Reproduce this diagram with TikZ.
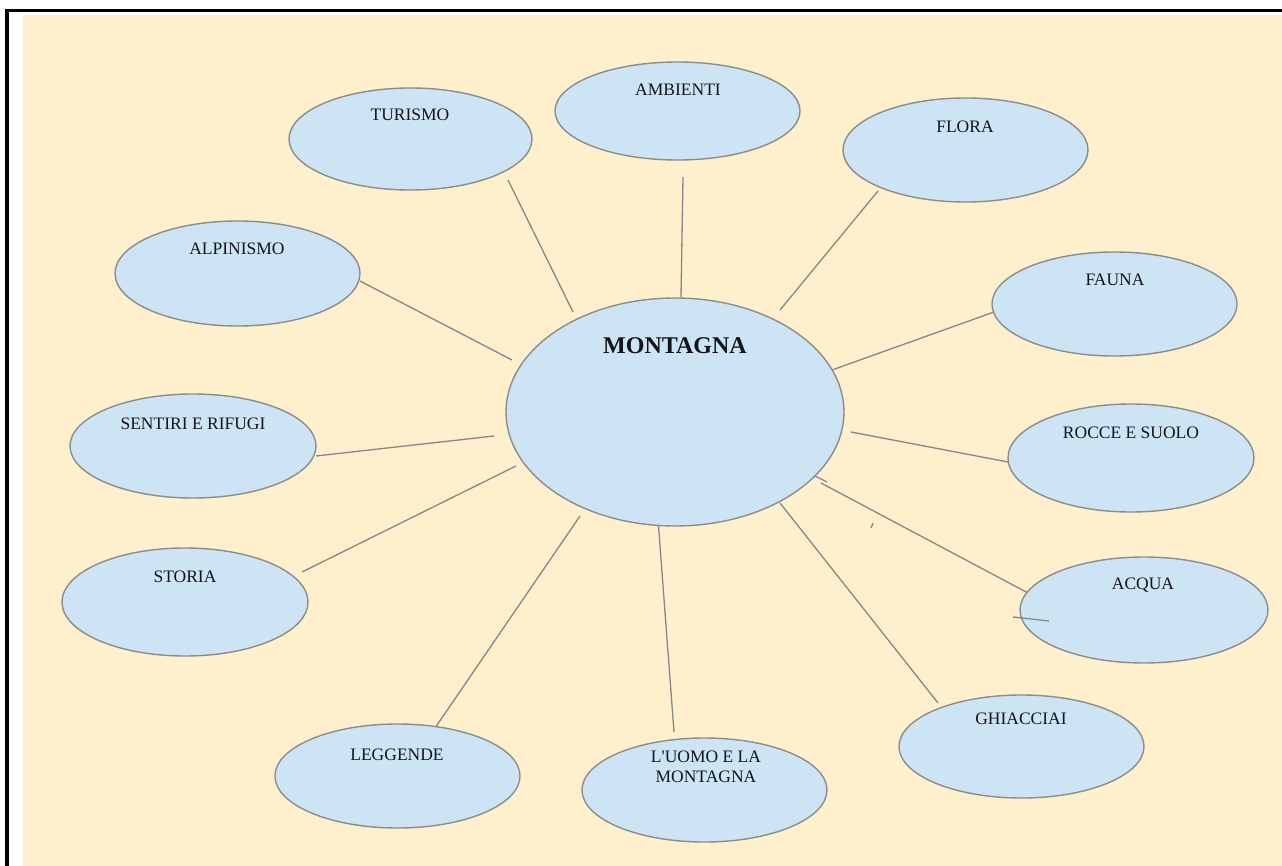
\documentclass[tikz,border=0pt]{standalone}
\usepackage{fontspec}
\setmainfont{Liberation Serif}
\usetikzlibrary{shapes.geometric}
\definecolor{cream}{RGB}{255,240,205}
\definecolor{bubfill}{RGB}{205,228,245}
\definecolor{bubline}{RGB}{140,140,140}
\definecolor{linkgray}{RGB}{135,135,135}
\definecolor{txt}{RGB}{20,20,25}
\tikzset{
  bub/.style={ellipse, draw=bubline, fill=bubfill, line width=1.4pt, inner sep=0pt},
  lbl/.style={text=txt, font=\fontsize{17.5}{19.5}\selectfont, align=center, inner sep=0pt},
  link/.style={draw=linkgray, line width=1.3pt}
}
\begin{document}
\begin{tikzpicture}[x=1pt,y=-1pt]
\useasboundingbox (0,0) rectangle (1282,866);
\fill[cream] (23,15) rectangle (1282,866);
\fill[black] (5,9) rectangle (1282,12.5);
\fill[black] (5,9) rectangle (8.5,866);

% connector end points
\coordinate (t1) at (508,180); \coordinate (t2) at (573,312);
\coordinate (a1) at (683,177); \coordinate (a2) at (681,297);
\coordinate (f1) at (878,191); \coordinate (f2) at (780,310);
\coordinate (fa1) at (994,312); \coordinate (fa2) at (832,370);
\coordinate (r1) at (851,432); \coordinate (r2) at (1008,462);
\coordinate (q1) at (821,483); \coordinate (q2) at (1028,593);
\coordinate (q3) at (815,476); \coordinate (q4) at (827,482);
\coordinate (q5) at (871,528); \coordinate (q6) at (873,523);
\coordinate (q7) at (1013,617); \coordinate (q8) at (1049,621);
\coordinate (g1) at (780,503); \coordinate (g2) at (938,703);
\coordinate (u1) at (658,519); \coordinate (u2) at (674,732);
\coordinate (l1) at (580,516); \coordinate (l2) at (435,728);
\coordinate (s1) at (516,466); \coordinate (s2) at (302,572);
\coordinate (e1) at (494,436); \coordinate (e2) at (316,456);
\coordinate (p1) at (360,281); \coordinate (p2) at (512,360);

\draw[link] (t1) -- (t2);
\draw[link] (a1) -- (a2);
\draw[link] (f1) -- (f2);
\draw[link] (fa1) -- (fa2);
\draw[link] (r1) -- (r2);
\draw[link] (q1) -- (q2);
\draw[link] (q3) -- (q4);
\draw[link] (q5) -- (q6);
\draw[link] (g1) -- (g2);
\draw[link] (u1) -- (u2);
\draw[link] (l1) -- (l2);
\draw[link] (s1) -- (s2);
\draw[link] (e1) -- (e2);
\draw[link] (p1) -- (p2);

\node[bub, minimum width=243pt, minimum height=102pt] (turismo) at (410.5,139) {};
\node[bub, minimum width=245pt, minimum height=98pt] (ambienti) at (677.5,111) {};
\node[bub, minimum width=245pt, minimum height=104pt] (flora) at (965.5,150) {};
\node[bub, minimum width=245pt, minimum height=104pt] (fauna) at (1114.5,304) {};
\node[bub, minimum width=246pt, minimum height=108pt] (rocce) at (1131,458) {};
\node[bub, minimum width=248pt, minimum height=106pt] (acqua) at (1144,610) {};
\node[bub, minimum width=245pt, minimum height=103pt] (ghiacciai) at (1021.5,746.5) {};
\node[bub, minimum width=245pt, minimum height=104pt] (uomo) at (704.5,790) {};
\node[bub, minimum width=245pt, minimum height=104pt] (leggende) at (397.5,776) {};
\node[bub, minimum width=246pt, minimum height=108pt] (storia) at (185,602) {};
\node[bub, minimum width=246pt, minimum height=104pt] (sentiri) at (193,446) {};
\node[bub, minimum width=245pt, minimum height=105pt] (alpinismo) at (237.5,273.5) {};
\node[bub, minimum width=338pt, minimum height=228pt] (montagna) at (675,412) {};

% short stroke lying over the ACQUA bubble
\draw[link] (q7) -- (q8);

\node[lbl] (tturismo) at (410,115) {TURISMO};
\node[lbl] (tambienti) at (678,90) {AMBIENTI};
\node[lbl] (tflora) at (965,127) {FLORA};
\node[lbl] (tfauna) at (1115,280) {FAUNA};
\node[lbl] (trocce) at (1131,433) {ROCCE E SUOLO};
\node[lbl] (tacqua) at (1143,585) {ACQUA};
\node[lbl] (tghiacciai) at (1021,719) {GHIACCIAI};
\node[lbl] (tuomo) at (706,767) {L\textquotesingle UOMO E LA\\MONTAGNA};
\node[lbl] (tleggende) at (397,755) {LEGGENDE};
\node[lbl] (tstoria) at (185,577) {STORIA};
\node[lbl] (tsentiri) at (193,424) {SENTIRI E RIFUGI};
\node[lbl] (talpinismo) at (237,249) {ALPINISMO};
\node[lbl, font=\bfseries\fontsize{24}{26}\selectfont] (tmontagna) at (675,346) {MONTAGNA};
\end{tikzpicture}
\end{document}
